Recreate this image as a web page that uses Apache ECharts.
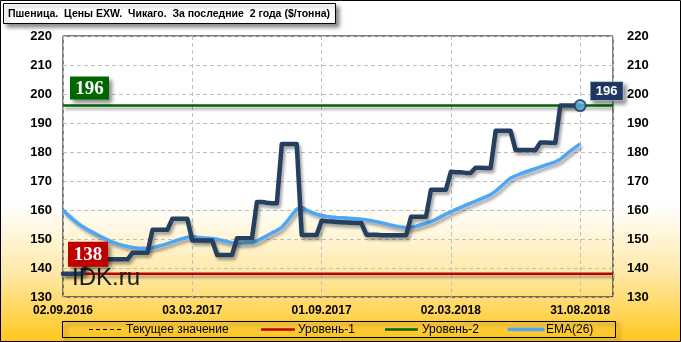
<!DOCTYPE html>
<html><head><meta charset="utf-8">
<script src="https://cdn.jsdelivr.net/npm/echarts@6/dist/echarts.min.js"></script>
<style>html,body{margin:0;padding:0;background:#fff;}#c{width:681px;height:342px;}</style>
</head><body><div id="c"></div>
<script>
const titleText = 'Пшеница.  Цены EXW.  Чикаго.  За последние  2 года ($/тонна)';
const tickWeeks = [0, 26, 52, 78, 104];
const tickLabels = ['02.09.2016', '03.03.2017', '01.09.2017', '02.03.2018', '31.08.2018'];
const xMax = 110.6;
const level1 = 138;
const level2 = 196;
const price = [
138,138,138,138,138,
143,143,143,143,143,143,143,143,143,
145.3,145.3,145.3,145.3,
153.2,153.2,153.2,153.2,
157,157,157,157,
149.5,149.5,149.5,149.5,149.5,
144.5,144.5,144.5,144.5,
150.3,150.3,150.3,150.3,
162.8,162.8,162.5,162.3,162.3,
182.8,182.8,182.8,182.8,
151.4,151.4,151.4,151.4,
156.3,156.1,156,155.9,155.8,155.7,155.6,155.5,155.5,
151.5,151.5,151.5,151.3,151.3,151.3,151.3,151.3,151.3,
157.7,157.7,157.7,157.7,
167,167,167,167,
173.2,173,173,172.8,172.8,
174.6,174.6,174.5,174.5,
187.3,187.3,187.3,187.3,
180.7,180.7,180.7,180.7,180.7,
183.3,183.3,183.2,183.2,
196,196,196,196,196
];
const ema = [
160,158.3,156.8,155.4,154.2,153.2,152.3,151.4,150.5,149.6,
148.9,148.3,147.8,147.4,147.1,146.9,146.8,146.8,147.0,147.4,
147.9,148.4,149.0,149.6,150.1,150.6,150.9,150.6,150.4,150.3,
150.2,149.9,149.5,149.1,148.7,148.5,148.5,148.6,148.7,149.3,
150.2,151.1,152.1,152.9,154.0,156.0,158.2,160.3,160.9,160.0,
159.2,158.6,158.1,157.8,157.6,157.4,157.3,157.2,157.1,157.0,
156.8,156.6,156.3,156.0,155.6,155.2,154.8,154.4,154.1,153.9,
154.0,154.4,154.9,155.4,156.0,156.8,157.7,158.6,159.4,160.2,
160.9,161.7,162.4,163.1,163.8,164.5,165.3,166.5,168.0,169.6,
171.0,171.8,172.5,173.1,173.7,174.3,174.9,175.5,176.0,176.6,
177.5,178.9,180.3,181.6,182.8
];
const legendNames = ['Текущее значение', 'Уровень-1', 'Уровень-2', 'EMA(26)'];

const chart = echarts.init(document.getElementById('c'), null, {renderer: 'canvas'});
const axisFont = {fontFamily: 'Liberation Sans', fontWeight: 'bold', fontSize: 13, color: '#000'};
const shadow = {shadowColor: 'rgba(0,0,0,0.35)', shadowBlur: 3, shadowOffsetX: 2, shadowOffsetY: 3};
const lastIdx = price.length - 1;

chart.setOption({
  animation: false,
  grid: {left: 63, right: 68, top: 36, bottom: 45, show: true, borderColor: '#000', borderWidth: 1, backgroundColor: 'transparent'},
  xAxis: {
    type: 'value', min: 0, max: xMax, interval: 26,
    axisLine: {show: false}, axisTick: {show: false},
    splitLine: {show: true, lineStyle: {color: '#bfbfbf', type: [4, 3], width: 1}},
    axisLabel: Object.assign({}, axisFont, {fontSize: 12, margin: 8,
      formatter: v => { const i = tickWeeks.indexOf(Math.round(v)); return (Math.abs(v - Math.round(v)) < 1e-6 && i >= 0) ? tickLabels[i] : ''; }})
  },
  yAxis: [
    {type: 'value', min: 130, max: 220, interval: 10, position: 'left',
     axisLine: {show: false}, axisTick: {show: false},
     splitLine: {show: true, lineStyle: {color: '#bfbfbf', type: [4, 3], width: 1}},
     axisLabel: Object.assign({}, axisFont, {margin: 11})},
    {type: 'value', min: 130, max: 220, interval: 10, position: 'right',
     axisLine: {show: false}, axisTick: {show: false}, splitLine: {show: false},
     axisLabel: Object.assign({}, axisFont, {margin: 14})}
  ],
  series: [
    {name: legendNames[1], type: 'line', symbol: 'none', z: 2,
     data: [[0, level1], [xMax, level1]],
     lineStyle: Object.assign({color: '#C00000', width: 2.5}, shadow)},
    {name: legendNames[2], type: 'line', symbol: 'none', z: 2,
     data: [[0, level2], [xMax, level2]],
     lineStyle: Object.assign({color: '#006600', width: 2.5}, shadow)},
    {name: legendNames[3], type: 'line', symbol: 'none', z: 3,
     data: ema.map((v, i) => [i, v]),
     lineStyle: Object.assign({color: '#4DA6F7', width: 3.5}, shadow)},
    {name: 'price', type: 'line', symbol: 'none', z: 4,
     data: price.map((v, i) => [i, v]),
     lineStyle: Object.assign({color: '#243F60', width: 4.5, join: 'round', cap: 'round'}, shadow)},
    {name: 'last', type: 'scatter', z: 5, symbol: 'circle', symbolSize: 11,
     data: [[lastIdx, price[lastIdx]]],
     itemStyle: {color: '#5CB8DC', borderColor: '#1F3A5F', borderWidth: 2}}
  ]
});

const p1 = chart.convertToPixel({gridIndex: 0}, [0, level1]);
const p2 = chart.convertToPixel({gridIndex: 0}, [0, level2]);
const pl = chart.convertToPixel({gridIndex: 0}, [lastIdx, price[lastIdx]]);
const boxShadow = {shadowColor: 'rgba(0,0,0,0.45)', shadowBlur: 4, shadowOffsetX: 3, shadowOffsetY: 3};
const serifLbl = {fontFamily: 'Liberation Serif', fontWeight: 'bold', fontSize: 19, fill: '#fff', textAlign: 'center', textVerticalAlign: 'middle'};

chart.setOption({
  graphic: [
    {type: 'rect', z: -10, silent: true, shape: {x: 0, y: 0, width: 681, height: 342},
     style: {fill: new echarts.graphic.LinearGradient(0, 0, 0, 1, [
       {offset: 0, color: '#ffffff'}, {offset: 0.6, color: '#ffffff'},
       {offset: 0.8, color: '#FFE9A8'}, {offset: 1, color: '#FFC61A'}])}},
    {type: 'rect', z: 100, silent: true, shape: {x: 0.5, y: 0.5, width: 680, height: 341},
     style: {fill: 'none', stroke: '#000', lineWidth: 1}},
    // title
    {type: 'rect', z: 50, shape: {x: 3.5, y: 3.5, width: 332, height: 20},
     style: Object.assign({fill: '#fff', stroke: '#000', lineWidth: 1}, boxShadow)},
    {type: 'text', z: 51, style: {x: 8, y: 14, text: titleText, fontFamily: 'Liberation Sans', fontWeight: 'bold', fontSize: 10.5, fill: '#000', textVerticalAlign: 'middle'}},
    // watermark
    {type: 'text', z: 10, style: {x: 72, y: 290, text: 'IDK.ru', fontFamily: 'Liberation Sans', fontSize: 24, fill: '#1a1a1a', textVerticalAlign: 'bottom'}},
    // level labels
    {type: 'rect', z: 20, shape: {x: p1[0] + 5, y: p1[1] - 32, width: 40, height: 25},
     style: Object.assign({fill: '#C00000'}, boxShadow)},
    {type: 'text', z: 21, style: Object.assign({x: p1[0] + 25, y: p1[1] - 19, text: String(level1)}, serifLbl)},
    {type: 'rect', z: 20, shape: {x: p2[0] + 7, y: p2[1] - 29, width: 39, height: 23},
     style: Object.assign({fill: '#006600'}, boxShadow)},
    {type: 'text', z: 21, style: Object.assign({x: p2[0] + 26.5, y: p2[1] - 17, text: String(level2)}, serifLbl)},
    // last value label
    {type: 'rect', z: 20, shape: {x: pl[0] + 10, y: pl[1] - 24, width: 33, height: 19},
     style: Object.assign({fill: '#1F3864', stroke: '#fff', lineWidth: 0.5}, boxShadow)},
    {type: 'text', z: 21, style: {x: pl[0] + 26.5, y: pl[1] - 14, text: String(price[lastIdx]), fontFamily: 'Liberation Sans', fontWeight: 'bold', fontSize: 13, fill: '#fff', textAlign: 'center', textVerticalAlign: 'middle'}},
    // legend
    {type: 'rect', z: 50, shape: {x: 62.5, y: 321.5, width: 553, height: 16},
     style: Object.assign({fill: 'rgba(255,210,60,0.01)', stroke: '#000', lineWidth: 1}, boxShadow)},
    {type: 'line', z: 51, shape: {x1: 89, y1: 329.5, x2: 122, y2: 329.5}, style: {stroke: '#000', lineWidth: 1, lineDash: [4, 3]}},
    {type: 'text', z: 51, style: {x: 126, y: 330, text: legendNames[0], fontFamily: 'Liberation Sans', fontSize: 12, fill: '#000', textVerticalAlign: 'middle'}},
    {type: 'line', z: 51, shape: {x1: 261, y1: 329.5, x2: 295, y2: 329.5}, style: {stroke: '#C00000', lineWidth: 2.5}},
    {type: 'text', z: 51, style: {x: 298, y: 330, text: legendNames[1], fontFamily: 'Liberation Sans', fontSize: 12, fill: '#000', textVerticalAlign: 'middle'}},
    {type: 'line', z: 51, shape: {x1: 385, y1: 329.5, x2: 418, y2: 329.5}, style: {stroke: '#006600', lineWidth: 2.5}},
    {type: 'text', z: 51, style: {x: 422, y: 330, text: legendNames[2], fontFamily: 'Liberation Sans', fontSize: 12, fill: '#000', textVerticalAlign: 'middle'}},
    {type: 'line', z: 51, shape: {x1: 509, y1: 329.5, x2: 543, y2: 329.5}, style: {stroke: '#4DA6F7', lineWidth: 3.5, lineCap: 'round'}},
    {type: 'text', z: 51, style: {x: 546, y: 330, text: legendNames[3], fontFamily: 'Liberation Sans', fontSize: 12, fill: '#000', textVerticalAlign: 'middle'}}
  ]
});
</script></body></html>
